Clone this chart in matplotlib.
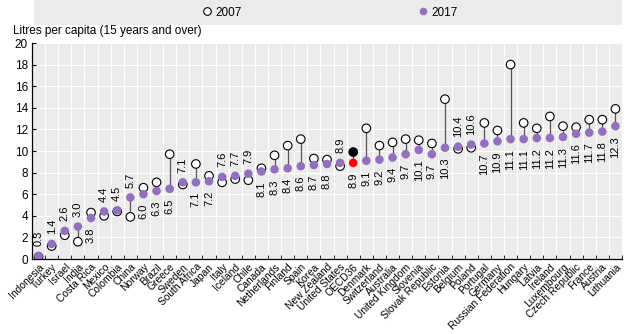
import matplotlib.pyplot as plt
from matplotlib.lines import Line2D
from matplotlib.patches import Rectangle
import numpy as np

plt.rcParams['font.family'] = ['Liberation Sans Narrow', 'Liberation Sans', 'DejaVu Sans']

countries = ['Indonesia', 'Turkey', 'Israel', 'India', 'Costa Rica', 'Mexico', 'Colombia', 'China',
             'Norway', 'Brazil', 'Greece', 'Sweden', 'South Africa', 'Japan', 'Italy', 'Iceland',
             'Chile', 'Canada', 'Netherlands', 'Finland', 'Spain', 'Korea', 'New Zealand',
             'United States', 'OECD36', 'Denmark', 'Switzerland', 'Australia', 'United Kingdom',
             'Slovenia', 'Slovak Republic', 'Estonia', 'Belgium', 'Poland', 'Portugal', 'Germany',
             'Russian Federation', 'Hungary', 'Latvia', 'Ireland', 'Luxembourg', 'Czech Republic',
             'France', 'Austria', 'Lithuania']
v2017 = [0.3, 1.4, 2.6, 3.0, 3.8, 4.4, 4.5, 5.7, 6.0, 6.3, 6.5, 7.1, 7.1, 7.2, 7.6, 7.7, 7.9,
         8.1, 8.3, 8.4, 8.6, 8.7, 8.8, 8.9, 8.9, 9.1, 9.2, 9.4, 9.7, 10.1, 9.7, 10.3, 10.4, 10.6,
         10.7, 10.9, 11.1, 11.1, 11.2, 11.2, 11.3, 11.6, 11.7, 11.8, 12.3]
v2007 = [0.2, 1.2, 2.2, 1.6, 4.3, 4.0, 4.4, 3.9, 6.6, 7.1, 9.7, 6.9, 8.8, 7.7, 7.1, 7.4, 7.3,
         8.4, 9.6, 10.5, 11.1, 9.3, 9.2, 8.6, 9.9, 12.1, 10.5, 10.8, 11.1, 11.0, 10.7, 14.8, 10.2,
         10.3, 12.6, 11.9, 18.0, 12.6, 12.1, 13.2, 12.3, 12.2, 12.9, 12.9, 13.9]

purple = '#9370BD'
oecd = countries.index('OECD36')
x = np.arange(len(countries))

fig = plt.figure(figsize=(6.26, 3.34), dpi=100)
ax = fig.add_axes([32/626, 1-259/334, 590/626, 216/334])
ax.set_facecolor('#EBEBEB')

# grey legend band
fig.patches.append(Rectangle((34/626, 1-25/334), 588/626, 25/334, transform=fig.transFigure,
                             facecolor='#EBEBEB', edgecolor='none', zorder=0))

for i in x:
    ax.plot([i, i], [v2007[i], v2017[i]], color='#555555', lw=0.9, zorder=2)

c07 = ['black' if i == oecd else 'white' for i in x]
c17 = ['#FF0000' if i == oecd else purple for i in x]
ax.scatter(x, v2007, s=38, facecolor=c07, edgecolor='black', linewidth=0.8, zorder=3)
ax.scatter(x, v2017, s=38, facecolor=c17, edgecolor='none', zorder=4)

# value labels go on the side of the 2017 dot away from the 2007 circle
for i in x:
    up = v2007[i] <= v2017[i]
    ax.annotate(f'{v2017[i]:.1f}', (i, v2017[i]), xytext=(0, 7 if up else -7),
                textcoords='offset points', rotation=90, ha='center',
                va='bottom' if up else 'top', fontsize=8)

ax.set_xlim(-0.5, len(countries) - 0.5)
ax.set_ylim(0, 20)
ax.set_yticks(range(0, 21, 2))
ax.set_xticks(x)
ax.set_xticklabels(countries, rotation=45, ha='right', rotation_mode='anchor', fontsize=7.4)
ax.set_xticks(np.arange(-0.5, len(countries), 1), minor=True)
ax.tick_params(axis='x', which='major', length=0, pad=2)
ax.tick_params(axis='x', which='minor', length=3, direction='in')
ax.tick_params(axis='y', length=3, direction='in', labelsize=8.5, pad=3)
ax.grid(True, which='minor', axis='x', color='white', lw=0.8)
ax.grid(True, which='major', axis='y', color='white', lw=0.8)
ax.set_axisbelow(True)
for s in ['top', 'right']:
    ax.spines[s].set_visible(False)
for s in ['left', 'bottom']:
    ax.spines[s].set_linewidth(0.9)

fig.text(13/626, 1-31/334, 'Litres per capita (15 years and over)', fontsize=8.5, va='center')

handles = [Line2D([], [], ls='none', marker='o', ms=5.5, mfc='white', mec='black', mew=0.8),
           Line2D([], [], ls='none', marker='o', ms=5.5, mfc=purple, mec='none')]
fig.legend(handles, ['2007', '2017'], loc='center', bbox_to_anchor=(330/626, 1-12.5/334),
           ncol=2, frameon=False, fontsize=8.5, handlelength=0.8, handletextpad=0.3,
           columnspacing=15)

fig.savefig('out.png', dpi=100)
